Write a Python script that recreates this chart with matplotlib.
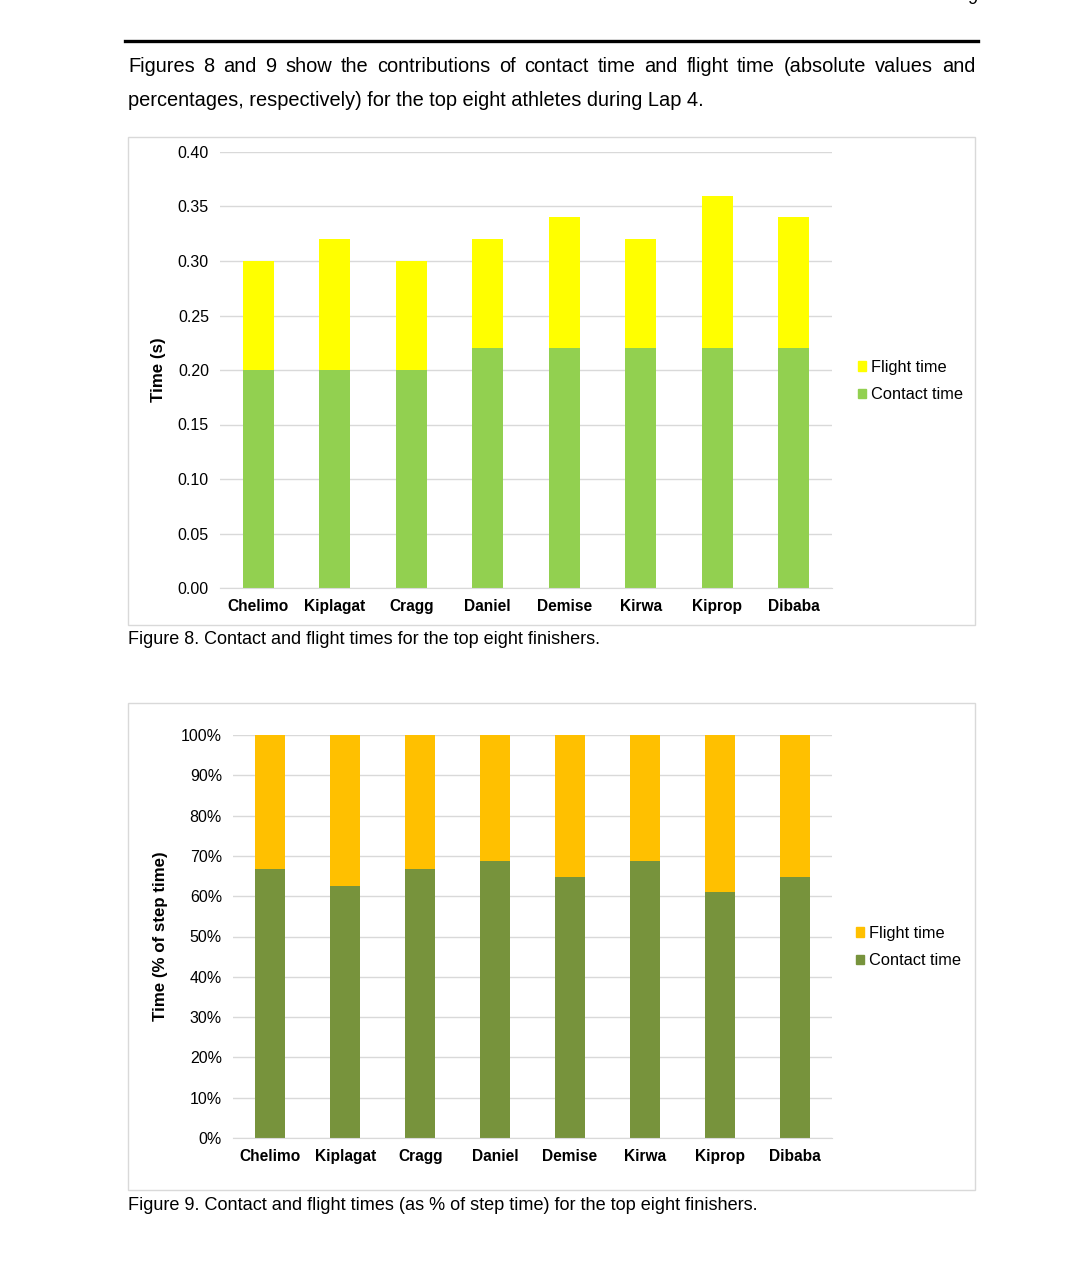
import matplotlib.pyplot as plt
from matplotlib.patches import Rectangle, Patch
from matplotlib.lines import Line2D
from matplotlib.ticker import PercentFormatter

athletes = ['Chelimo', 'Kiplagat', 'Cragg', 'Daniel', 'Demise', 'Kirwa', 'Kiprop', 'Dibaba']
contact_s = [0.20, 0.20, 0.20, 0.22, 0.22, 0.22, 0.22, 0.22]
flight_s = [0.10, 0.12, 0.10, 0.10, 0.12, 0.10, 0.14, 0.12]
contact_pct = [66.7, 62.5, 66.7, 68.8, 64.7, 68.8, 61.1, 64.7]
flight_pct = [33.3, 37.5, 33.3, 31.2, 35.3, 31.2, 38.9, 35.3]

intro_1 = "Figures 8 and 9 show the contributions of contact time and flight time (absolute values and"
intro_2 = "percentages, respectively) for the top eight athletes during Lap 4."
cap8 = "Figure 8. Contact and flight times for the top eight finishers."
cap9 = "Figure 9. Contact and flight times (as % of step time) for the top eight finishers."

ARIAL = ['Liberation Sans', 'DejaVu Sans']
GRID = '#d9d9d9'

W, H = 1080, 1266
fig = plt.figure(figsize=(W / 100, H / 100), dpi=100)


def fx(px):
    return px / W


def fy(py):
    return 1 - py / H


# page furniture
fig.add_artist(Line2D([fx(125), fx(978)], [fy(41), fy(41)], color='black', lw=2.4))
fig.text(fx(972), fy(-1), '9', family=ARIAL, fontsize=13, ha='center', va='center')

# first line justified between x=128 and x=975
words = intro_1.split()
renderer = fig.canvas.get_renderer()
objs = [fig.text(0, fy(66), w, family=ARIAL, fontsize=14.4, va='center') for w in words]
widths = [o.get_window_extent(renderer).width for o in objs]
gap = (975 - 128 - sum(widths)) / (len(words) - 1)
x = 128
for o, w in zip(objs, widths):
    o.set_x(fx(x))
    x += w + gap
fig.text(fx(128), fy(101), intro_2, family=ARIAL, fontsize=14.4, va='center')

fig.text(fx(128), fy(639), cap8, family=ARIAL, fontsize=13.0, va='center')
fig.text(fx(128), fy(1205), cap9, family=ARIAL, fontsize=13.1, va='center')

# chart frames
for top, bot in [(137, 625), (703, 1190)]:
    fig.add_artist(Rectangle((fx(128), fy(bot)), fx(975) - fx(128), fy(top) - fy(bot),
                             fill=False, edgecolor=GRID, lw=1.0))


def style(ax):
    for s in ['top', 'right', 'left']:
        ax.spines[s].set_visible(False)
    ax.spines['bottom'].set_color(GRID)
    ax.grid(axis='y', color=GRID, lw=1.0)
    ax.set_axisbelow(True)
    ax.tick_params(length=0)
    ax.tick_params(axis='y', labelsize=11.5, pad=8)
    ax.tick_params(axis='x', labelsize=11.2, pad=16.5)
    for t in ax.get_yticklabels():
        t.set_family(ARIAL)
    for t in ax.get_xticklabels():
        t.set_family(ARIAL)
        t.set_fontweight('bold')
        t.set_verticalalignment('baseline')
    ax.set_xlim(-0.5, len(athletes) - 0.5)


def legend(ax, handles, x, y):
    ax.legend(handles=handles, loc='center left', bbox_to_anchor=(fx(x), fy(y)),
              bbox_transform=fig.transFigure, frameon=False, handlelength=0.5, handleheight=0.5,
              handletextpad=0.3, labelspacing=0.75, prop={'family': ARIAL, 'size': 11.8})


# Figure 8
ax1 = fig.add_axes([fx(220), fy(588), fx(832) - fx(220), fy(152) - fy(588)])
ax1.bar(athletes, contact_s, width=0.4, color='#92D050', label='Contact time')
ax1.bar(athletes, flight_s, width=0.4, bottom=contact_s, color='#FFFF00', label='Flight time')
ax1.set_ylim(0, 0.40)
ax1.set_yticks([i * 0.05 for i in range(9)])
ax1.yaxis.set_major_formatter(lambda v, p: f'{v:.2f}')
style(ax1)
ax1.set_ylabel('Time (s)', family=ARIAL, fontsize=12.2, fontweight='bold')
ax1.yaxis.set_label_coords(fx(166 - 220) / (fx(832) - fx(220)), 0.5)
legend(ax1, [Patch(color='#FFFF00', label='Flight time'),
             Patch(color='#92D050', label='Contact time')], 843, 381)

# Figure 9
ax2 = fig.add_axes([fx(233), fy(1138), fx(832) - fx(233), fy(735) - fy(1138)])
ax2.bar(athletes, contact_pct, width=0.4, color='#77933C', label='Contact time')
ax2.bar(athletes, flight_pct, width=0.4, bottom=contact_pct, color='#FFC000', label='Flight time')
ax2.set_ylim(0, 100)
ax2.set_yticks(range(0, 101, 10))
ax2.yaxis.set_major_formatter(PercentFormatter(decimals=0))
style(ax2)
ax2.set_ylabel('Time (% of step time)', family=ARIAL, fontsize=12.2, fontweight='bold')
ax2.yaxis.set_label_coords(fx(168 - 233) / (fx(832) - fx(233)), 0.5)
legend(ax2, [Patch(color='#FFC000', label='Flight time'),
             Patch(color='#77933C', label='Contact time')], 841, 947)

fig.savefig('out.png', dpi=100)
